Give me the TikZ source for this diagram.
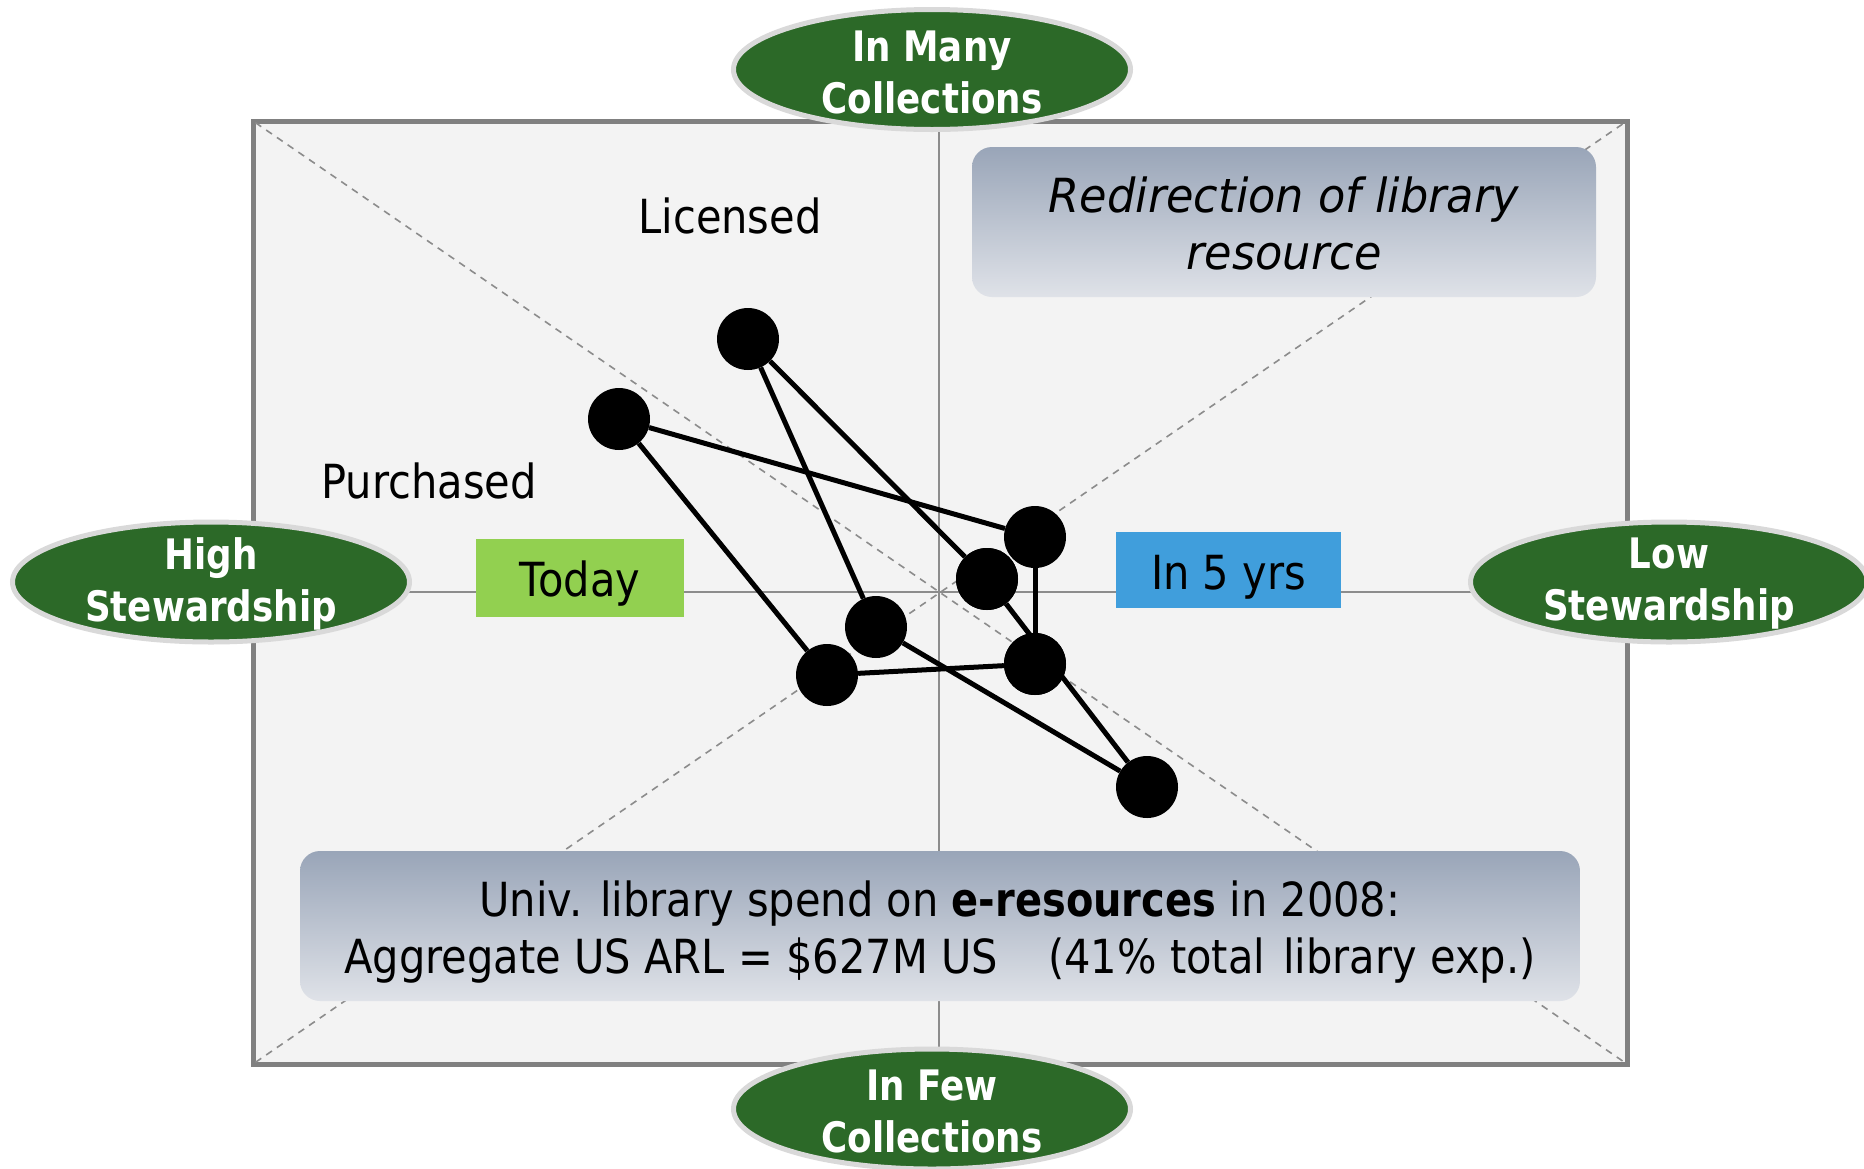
\documentclass[tikz,border=0pt]{standalone}
\usepackage{fontspec}
\setmainfont{DejaVu Sans}[FakeStretch=0.885, BoldFeatures={FakeStretch=0.85}, ItalicFeatures={FakeStretch=0.95}]
\usetikzlibrary{shapes.geometric}
\definecolor{ovalgreen}{RGB}{44,105,40}
\definecolor{ovalrim}{RGB}{217,217,217}
\definecolor{panelfill}{RGB}{243,243,243}
\definecolor{framegray}{RGB}{128,128,128}
\definecolor{axisgray}{RGB}{140,140,140}
\definecolor{todaygreen}{RGB}{146,208,80}
\definecolor{yrsblue}{RGB}{64,158,220}
\definecolor{gradtop}{RGB}{153,165,184}
\definecolor{gradbot}{RGB}{223,226,232}
\tikzset{
  panelbox/.style={rectangle, draw=framegray, fill=panelfill, line width=5pt, outer sep=0pt, inner sep=0pt},
  oval/.style={ellipse, fill=ovalgreen, draw=ovalrim, line width=5pt, minimum width=397pt, minimum height=120pt, inner sep=0pt},
  ovaltext/.style={text=white, align=center, inner sep=0pt, font=\fontsize{42}{52}\selectfont\bfseries},
  plainlabel/.style={font=\fontsize{47}{57}\selectfont, text=black, inner sep=0pt},
  tagbox/.style={rectangle, inner sep=0pt},
  notebox/.style={rectangle, rounded corners=20pt, top color=gradtop, bottom color=gradbot, inner sep=0pt},
  notetext/.style={align=center, inner sep=0pt, font=\fontsize{47}{57}\selectfont},
  dot/.style={circle, fill=black, minimum size=62pt, inner sep=0pt},
  edge/.style={line width=5pt, draw=black},
  diag/.style={draw=axisgray, line width=1.6pt, dash pattern=on 7pt off 6pt},
  axisline/.style={draw=axisgray, line width=2pt},
}
\begin{document}
\begin{tikzpicture}[x=1pt,y=-1pt]
\useasboundingbox (0,0) rectangle (1864,1168);
\fill[white] (0,0) rectangle (1864,1168);

% panel
\node[panelbox, minimum width=1374pt, minimum height=943pt] (frame) at (940,592.5) {};
\draw[diag, shorten <=3pt, shorten >=3pt] (frame.north west) -- (frame.south east);
\draw[diag, shorten <=3pt, shorten >=3pt] (frame.south west) -- (frame.north east);
\coordinate (vtop) at (939,123.5);
\coordinate (vbot) at (939,1061.5);
\coordinate (hleft) at (255.5,592);
\coordinate (hright) at (1624.5,592);
\draw[axisline] (vtop) -- (vbot);
\draw[axisline] (hleft) -- (hright);

% labels
\node[plainlabel, anchor=base] (lic) at (730,233) {Licensed};
\node[plainlabel, anchor=base] (pur) at (429,498) {Purchased};
\node[tagbox, fill=todaygreen, minimum width=208pt, minimum height=78pt] (today) at (580,578) {};
\node[plainlabel, anchor=base] (todaytxt) at (580,596) {Today};
\node[tagbox, fill=yrsblue, minimum width=225pt, minimum height=76pt] (yrs) at (1228.5,570) {};
\node[plainlabel, anchor=base] (yrstxt) at (1228.5,589) {In 5 yrs};

\node[notebox, minimum width=624pt, minimum height=150pt] (redir) at (1284,222) {};
\node[notetext, font=\fontsize{47}{57}\selectfont\itshape] (redirtxt) at (1284,223) {Redirection of library\\resource};
\node[notebox, minimum width=1280pt, minimum height=150pt] (spend) at (940,926) {};
\node[notetext] (spendtxt) at (940,932)
  {Univ. library spend on \textbf{e-resources} in 2008:\\Aggregate US ARL = \$627M US\hspace{50pt}(41\% total\hspace{18pt}library exp.)};

% dots
\node[dot] (a) at (748,339) {};
\node[dot] (b) at (619,419) {};
\node[dot] (c) at (1035,537) {};
\node[dot] (g) at (1035,664) {};
\node[dot] (h) at (1147,787) {};
\node[dot] (e) at (876,627) {};
\node[dot] (f) at (827,675) {};
\node[dot] (d) at (987,579) {};

\draw[edge] (a) -- (e);
\draw[edge] (a) -- (d);
\draw[edge] (b) -- (c);
\draw[edge] (b) -- (f);
\draw[edge] (c) -- (g);
\draw[edge] (d) -- (h);
\draw[edge] (e) -- (h);
\draw[edge] (f) -- (g);
\node[dot] at (d) {};
\node[dot] at (g) {};

% ovals
\node[oval] (many) at (932,69.5) {};
\node[ovaltext] (manytxt) at (932,72) {In Many\\Collections};
\node[oval] (few) at (932,1109) {};
\node[ovaltext] (fewtxt) at (932,1111) {In Few\\Collections};
\node[oval] (high) at (211,582) {};
\node[ovaltext] (hightxt) at (211,584) {High\\Stewardship};
\node[oval] (low) at (1669,582) {};
\node[ovaltext] (lowtxt) at (1669,584) {Low\\Stewardship};
\end{tikzpicture}
\end{document}
